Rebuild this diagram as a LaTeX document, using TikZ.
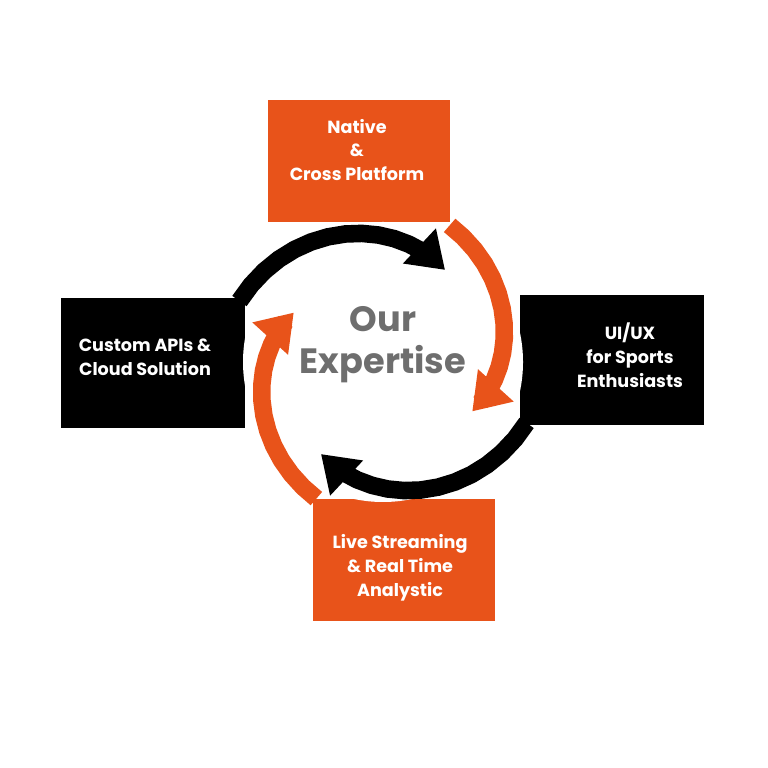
\documentclass[tikz,border=0pt]{standalone}
\usepackage{fontspec}
\setmainfont{Poppins}[BoldFont=* Bold]
\usetikzlibrary{arrows.meta,positioning}
\definecolor{expOrange}{HTML}{E8531A}
\definecolor{expGray}{HTML}{6E6E6E}
\begin{document}
\begin{tikzpicture}[x=0.01cm, y=-0.01cm]
    % Define styles
    \tikzset{
        orangebox/.style={rectangle, fill=expOrange, minimum width=1.82cm, minimum height=1.22cm, inner sep=0},
        blackbox/.style={rectangle, fill=black, minimum width=1.84cm, minimum height=1.30cm, inner sep=0},
        boxtext/.style={text=white, font=\bfseries\fontsize{5pt}{6.8pt}\selectfont, align=center},
        spiral/.style={line width=5pt, -{Triangle[length=10pt, width=13pt]}}
    }
    \useasboundingbox (0,0) rectangle (768,768);

    % Boxes
    \node[orangebox] (native) at (359,161) {};
    \node[blackbox] (uiux) at (612,360) {};
    \node[orangebox] (live) at (404,560) {};
    \node[blackbox] (custom) at (153,363) {};
    \fill[white] (383,362) circle (140);

    % Texts
    \node[boxtext] (native_t) at (357,150) {Native\\\&\\Cross Platform};
    \node[boxtext] (uiux_t) at (630,355) {UI/UX\\for Sports\\Enthusiasts};
    \node[boxtext] (live_t) at (400,568) {Live Streaming\\\& Real Time\\Analystic};
    \node[boxtext] (custom_t) at (145,357) {Custom APIs \&\\Cloud Solution};
    \node[text=expGray, font=\bfseries\fontsize{10pt}{12pt}\selectfont, align=center] (center) at (383,345) {Our\\Expertise};

    % Arcs
    \draw[spiral, black] plot[domain=157:56, samples=15] ({383+(156-45*(157-\x)/101)*cos(\x)}, {362-(156-45*(157-\x)/101)*sin(\x)});
    \draw[spiral, expOrange] plot[domain=64:-29, samples=15] ({383+(152-50*(64-\x)/93)*cos(\x)}, {362-(152-50*(64-\x)/93)*sin(\x)});
    \draw[spiral, black] plot[domain=-23:-124, samples=15] ({383+(156-45*(-23-\x)/101)*cos(\x)}, {362-(156-45*(-23-\x)/101)*sin(\x)});
    \draw[spiral, expOrange] plot[domain=-116:-209, samples=15] ({383+(152-50*(-116-\x)/93)*cos(\x)}, {362-(152-50*(-116-\x)/93)*sin(\x)});
\end{tikzpicture}
\end{document}
